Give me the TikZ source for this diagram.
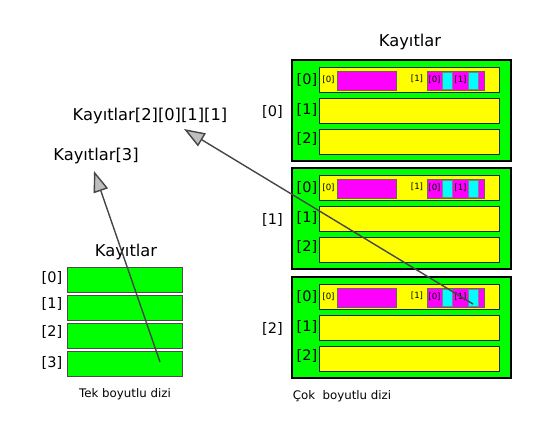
\documentclass[tikz,border=0pt]{standalone}
\usepackage{fontspec}
\setmainfont{DejaVu Sans}
\usetikzlibrary{arrows.meta}
\definecolor{gr}{RGB}{0,255,0}
\definecolor{ye}{RGB}{255,255,0}
\definecolor{mg}{RGB}{255,0,255}
\definecolor{cy}{RGB}{0,255,255}
\definecolor{ln}{RGB}{70,70,70}
\definecolor{hd}{RGB}{190,190,190}
\tikzset{
  bigbox/.style={draw=black,line width=2.6pt,fill=gr,minimum width=219pt,minimum height=101pt,inner sep=0pt},
  yrow/.style={draw=black!85,line width=0.9pt,fill=ye,minimum width=180pt,minimum height=25pt,inner sep=0pt},
  greenrow/.style={draw=black!70,line width=0.8pt,fill=gr,minimum width=115pt,minimum height=25pt,inner sep=0pt},
  mbox/.style={draw=black!60,line width=0.8pt,fill=mg,minimum height=19pt,inner sep=0pt},
  cbox/.style={draw=black!50,line width=0.6pt,fill=cy,minimum width=10pt,minimum height=17pt,inner sep=0pt},
  bigtext/.style={font=\fontsize{16.3}{19}\selectfont,inner sep=0pt},
  midtext/.style={font=\fontsize{14.5}{17}\selectfont,inner sep=0pt},
  tinytext/.style={font=\fontsize{8.6}{10}\selectfont,inner sep=0pt},
  captext/.style={font=\fontsize{11.8}{14}\selectfont,inner sep=0pt},
  arr/.style={draw=ln,line width=1.4pt,-{Triangle[length=21pt,width=15pt,fill=hd]}},
}
\begin{document}
\begin{tikzpicture}[x=1pt,y=-1pt]
\useasboundingbox (0,0) rectangle (553,442);
\fill[white] (0,0) rectangle (553,442);
% multi-dimensional array
\node[bigtext] (T2) at (410,42) {Kayıtlar};
\foreach \k/\dy in {0/0,1/108,2/217} {
  \node[bigbox] (B\k) at (401.5,110.5+\dy) {};
  \node[midtext] (L\k) at (272.5,111.5+\dy) {[\k]};
  \node[yrow] (R\k-0) at (409,80+\dy) {};
  \node[yrow] (R\k-1) at (409,111+\dy) {};
  \node[yrow] (R\k-2) at (409,141.5+\dy) {};
  \node[midtext] (I\k-0) at (307,80+\dy) {[0]};
  \node[midtext] (I\k-1) at (307,110+\dy) {[1]};
  \node[midtext] (I\k-2) at (307,139+\dy) {[2]};
  \node[tinytext] (s\k-0) at (328.5,80+\dy) {[0]};
  \node[mbox,minimum width=59pt] (M\k-0) at (366.5,80.5+\dy) {};
  \node[tinytext] (s\k-1) at (417,79+\dy) {[1]};
  \node[mbox,minimum width=57pt] (M\k-1) at (455.5,80.5+\dy) {};
  \node[tinytext] (t\k-0) at (434.5,80+\dy) {[0]};
  \node[cbox] (C\k-0) at (447,80.5+\dy) {};
  \node[tinytext] (t\k-1) at (460.5,80+\dy) {[1]};
  \node[cbox] (C\k-1) at (473,80.5+\dy) {};
}
\node[captext] (cap2) at (342,396) {Çok\ \ boyutlu dizi};
% one-dimensional array
\node[bigtext] (T1) at (126,252) {Kayıtlar};
\foreach \i/\y/\ly in {0/279.5/278,1/307.5/304,2/335.5/332,3/364/363} {
  \node[greenrow] (G\i) at (124.5,\y) {};
  \node[midtext] (GL\i) at (52,\ly) {[\i]};
}
\node[captext] (cap1) at (125,394) {Tek boyutlu dizi};
% access labels
\node[bigtext] (A2) at (150,116) {Kayıtlar[2][0][1][1]};
\node[bigtext] (A1) at (96,156) {Kayıtlar[3]};
\coordinate (e1) at (94,171);
\coordinate (e2) at (184,129);
\coordinate (s1) at (160,362);
\coordinate (s2) at ([yshift=-6.5pt]C2-1.center);
\draw[arr] (s1) -- (e1);
\draw[arr] (s2) -- (e2);
\end{tikzpicture}
\end{document}
